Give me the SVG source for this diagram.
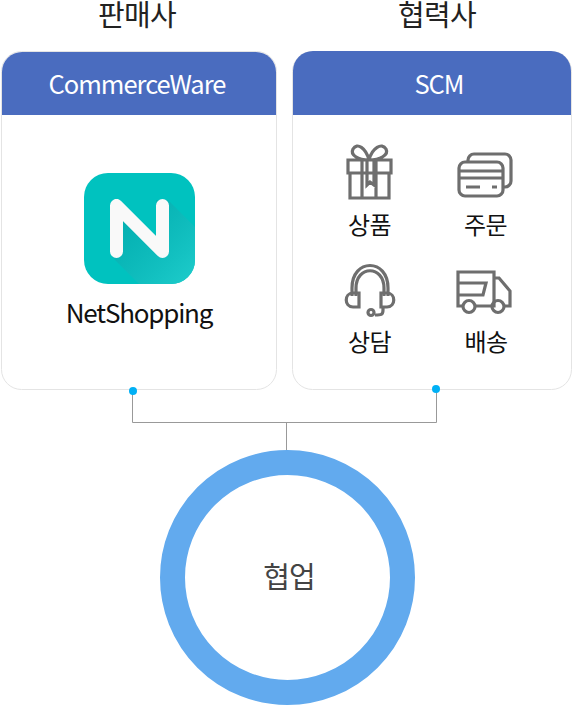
<svg xmlns="http://www.w3.org/2000/svg" width="573" height="706" viewBox="0 0 573 706">
<defs>
<style>
text{font-family:"Noto Sans CJK KR","Noto Sans",sans-serif;text-anchor:middle}
.t{font-size:29px;font-weight:400;fill:#222;letter-spacing:-.7px}
.h{font-size:25.500px;font-weight:400;fill:#fff;letter-spacing:-1px}
.l{font-size:24px;font-weight:400;fill:#111;letter-spacing:-.5px}
.i{fill:none;stroke:#6e6e6e;stroke-width:3.200;stroke-linejoin:miter}
.card{fill:#fff;stroke:#e4e4e4;stroke-width:1}
.bar{fill:#4a6cbf}
</style>
<linearGradient id="sh" x1="0" y1="0" x2="1" y2="1"><stop offset="0" stop-color="#00a5a8" stop-opacity=".75"/><stop offset=".7" stop-color="#14c2c2"/><stop offset="1" stop-color="#22cfce"/></linearGradient>
<clipPath id="appclip"><rect x="84" y="173" width="111" height="111" rx="24"/></clipPath>
</defs>
<g id="connectors" fill="none" stroke="#999" stroke-width="1">
<path d="M132.500 391V422.500H436.500V388"/>
<path d="M286.500 422.500V452"/>
</g>
<g id="seller">
<text class="t" x="137" y="25.500">판매사</text>
<rect class="card" x="1.500" y="51.500" width="275" height="338" rx="20"/>
<path class="bar" d="M2 115V72A20 20 0 0 1 22 52H256A20 20 0 0 1 276 72V115Z"/>
<text class="h" x="137" y="94">CommerceWare</text>
<rect x="84" y="173" width="111" height="111" rx="24" fill="#00c2bf"/>
<path clip-path="url(#appclip)" d="M168 200L200 232V290H145L112 257L122 212L156 246V200Z" fill="url(#sh)"/>
<path d="M116.500 205.500V251.500M116.500 205.500L162.500 251.500M162.500 205.500V251.500" fill="none" stroke="#f9f9f9" stroke-width="13" stroke-linecap="round" stroke-linejoin="round"/>
<text x="139" y="323" style="font-size:26px;font-weight:400;fill:#111;letter-spacing:-1.200px">NetShopping</text>
</g>
<g id="partner">
<text class="t" x="437" y="25.500">협력사</text>
<rect class="card" x="292.500" y="51.500" width="279" height="338" rx="20"/>
<path class="bar" d="M293 115V71A20 20 0 0 1 313 51H551A20 20 0 0 1 571 71V115Z"/>
<text class="h" x="439" y="94">SCM</text>
</g>
<g id="item-product">
<path class="i" d="M348 160H391V173H348ZM350 173H389V198H350ZM362 160V198M376 160V198M367 160V185L370 182L374 185V160M369 160C358 160 350 155 353 149C357 142 366 148 369 160C372 148 382 142 386 149C389 155 380 160 369 160Z"/>
<text class="l" x="369.500" y="234">상품</text>
</g>
<g id="item-order">
<path class="i" d="M468 161V160A6 6 0 0 1 474 154H505A6 6 0 0 1 511 160V181A6 6 0 0 1 505 187H503"/>
<rect class="i" x="459" y="162" width="44" height="34" rx="6"/>
<path class="i" d="M459 171H503M459 178H503M466 187H480M492 187H497"/>
<text class="l" x="485.500" y="234">주문</text>
</g>
<g id="item-consult">
<path class="i" d="M352 296V288C352 258 388 258 388 288V296M356 296V288C356 265 384 265 384 288V296"/>
<path class="i" d="M353 293H359V307H353C344 307 344 293 353 293ZM381 293H387C396 293 396 307 387 307H381ZM383 307V310C383 315 381 315 375 315"/>
<circle class="i" cx="371" cy="312.500" r="3"/>
<text class="l" x="369.500" y="351">상담</text>
</g>
<g id="item-delivery">
<path class="i" stroke-width="3.500" d="M463 306H458V272H494V306H476M494 278H499L510 291V306H505M494 306H492M458 283H486L483 295H458"/>
<circle class="i" cx="469" cy="306.500" r="6"/>
<circle class="i" cx="498" cy="306.500" r="6"/>
<text class="l" x="486" y="351">배송</text>
</g>
<g id="dots" fill="#00b0f5">
<circle cx="133" cy="391" r="4"/>
<circle cx="436" cy="389" r="4"/>
</g>
<g id="collab">
<circle cx="287.500" cy="577.500" r="115" fill="#fff" stroke="#62aaee" stroke-width="25"/>
<text x="289" y="588" style="font-size:29px;font-weight:400;fill:#444;letter-spacing:-1px">협업</text>
</g>
</svg>
